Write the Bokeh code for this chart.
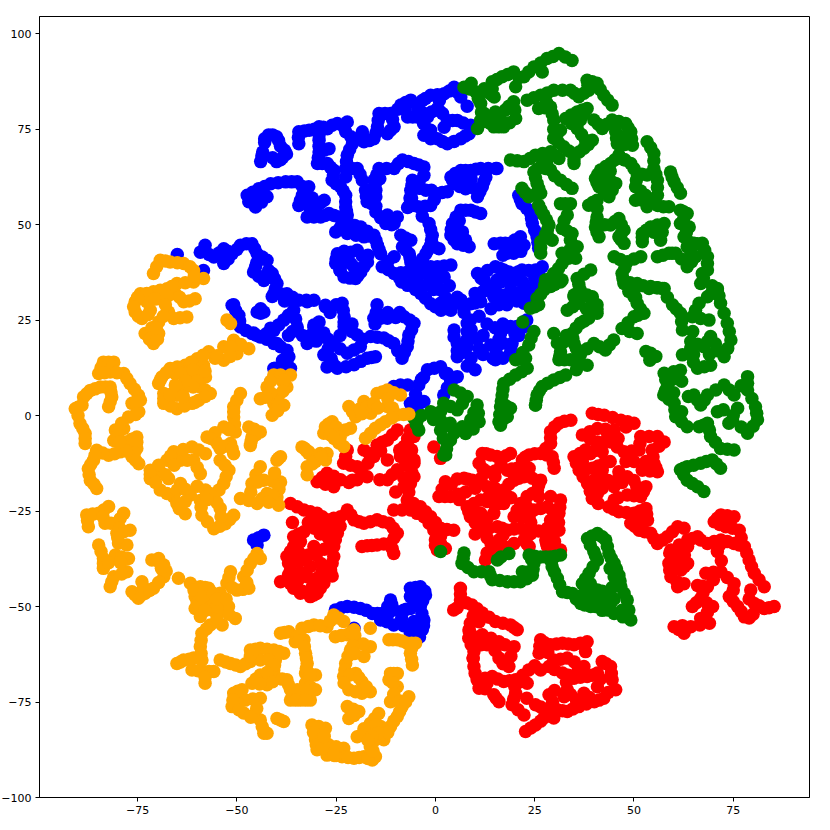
from bokeh.plotting import figure
from bokeh.embed import file_html
from bokeh.resources import INLINE

x_ticks = [-75, -50, -25, 0, 25, 50, 75]
y_ticks = [-100, -75, -50, -25, 0, 25, 50, 75, 100]

blue_points = [
(-44,66.5),(-43.5,69),(-43,71.5),(-42,73.5),(-40,73),(-39,70.5),(-37.5,68.5),(-39,67),(-41,67.5),
(-22.2,76.9),(-22.6,74.3),(-24.7,76.5),(-27.2,75.1),(-29.3,75.6),(-31.8,74.7),(-34.4,74.3),(-34.4,71.2),
(-29.3,72.1),(-29.3,69),(-26.8,69.9),(-29.7,66),(-27.2,66),(-25.5,64.2),(-26,61.6),(-23.9,59.9),(-22.6,57.7),(-22.6,54.6),(-22.2,52.5),(-23,50.3),(-25.1,48.1),
(-20.9,71.2),(-22.2,68.2),(-22.6,64.7),(-22.6,62.5),(-19.7,64.7),(-18.4,61.6),
(-18.4,74.3),(-18,71.7),(-15.5,72.5),(-14.6,75.6),(-14.2,79.1),(-11.3,79.1),(-10.4,75.6),(-12.1,73.8),(-8.7,81.3),(-6.2,82.6),(-7,78.2),(-4.5,78.2),(-1.2,83.9),(2.2,84.3),(4.7,86),(6.4,83.4),(0.5,80.4),(1.8,79.1),(-4.5,80.8),(-2,78.2),(-1.2,74.7),(-2.9,73.4),(0.5,72.5),(3,71.2),(6.4,72.5),(8.5,73.8),(8.9,76),(5.5,77.3),(3,77.3),(8,81),
(-14.2,64.7),(-10.4,64.7),(-8.3,66.9),(-5.4,66),(-2.9,65.1),(-2.9,62.9),(-15.5,61.6),(-15,59),(-17.6,59),(-17.2,56),(-15,57.3),(-15,53.3),(-12.5,50.3),(-12.1,52.5),(-9.6,52),(-10.4,50.3),
(-5.8,61.6),(-6.2,59),(-4.1,61.2),(-6.6,55),(-4.1,54.6),(-1.2,55),(0.5,58.1),(-2.4,59),(3,58.6),(-3.3,52.2),(-6,57),
(3.9,62.5),(6.4,64.2),(8.9,64.2),(11.4,64.7),(15.2,64.7),(4.7,60.8),(7.6,59.4),(11.8,59.9),(10.6,57.3),(12.7,62.5),
(6.4,53.8),(8.9,53.8),(11.4,52.9),(4.3,50.3),(3.9,47.2),(6.8,48.1),(8.5,44.2),(5.5,45),(6,51),
(-1.6,50.3),(-0.8,47.2),(-1.2,44.6),(0.9,43.7),(-2.4,42.4),(-4.1,39.8),
(-8.7,47.2),(-6.2,45.9),(-8.3,44.2),(-6.6,42.4),(-6.2,40.2),
(-24.7,42.4),(-25.1,39.8),(-23,36.3),(-20.1,35.9),(-18.8,37.6),(-17.1,40.2),(-19.7,43.3),(-22.2,40.7),(-20.5,38.9),(-23,43),(-24,38),(-17,42),
(-47.4,57.7),(-44.5,59.4),(-41.5,60.7),(-37.7,61.2),(-34.8,61.2),(-45.3,54.6),(-42.4,57.3),(-33.5,57.7),(-34.4,55),(-31.9,59.9),(-29.7,55),(-28,56.4),(-32.3,52),(-28.9,52),(-26.8,52.9),(-24.3,52),(-21.8,50.3),(-18.8,49.4),(-15.5,47.2),(-14.6,44.6),(-13.8,42.4),(-18,46.8),(-22.2,47.7),(-47,56),(-44,56.5),(-31,57),(-32,55),(-31,53),
(-13.4,39),(-10.4,41.6),(-10.4,37.2),(-7,37.6),(-2.9,39),(0.5,39),(3.9,39.4),(-1.2,35.4),(2.2,36.3),(-7,34.1),(-3.7,32),(-1.2,29.3),(1.4,27.6),(5.5,31),(3.9,27.6),(8.9,29.3),(11.4,29.8),(12.3,35.4),(10.6,37.2),(13.1,38),(14.8,45),(-12,38.5),(-9,36),(-4,37),(0,37),(-3,34),(1,33),
(15.5,64.7),(21,57.7),(21.8,55.5),(24,52.9),(24.4,50.3),(25.6,46.8),(26,43.8),(16.4,45.1),(18.9,45.1),(21.4,46.8),(19.7,42.5),(22.3,44.6),(15.1,39),(17.2,38.1),(19.7,37.2),(21.8,38.1),(18.9,34.6),(15.5,35.5),(25.2,38.1),(24.8,33.7),(26.9,39),(14.7,31.1),(17.2,31.5),(21.4,31.1),(15.5,32),(18.9,31.1),(22.3,29.4),(24.8,33.8),(16.4,21.5),(15.5,18),(15.1,14.6),(18.9,23.3),(22.3,23.3),(19.3,18.9),(18.9,16.3),(13,34),(10,32),(17,42),(22,35),(17,19),(21,21),(17,24),
(-65,42.2),(-59.2,42.8),(-58,44.6),(-55.8,41.5),(-53.3,43.7),(-53.3,39.8),(-51.2,42.4),(-49.1,44.6),(-46.2,45),(-44.9,42.4),(-42.4,40.7),(-45.8,37.6),(-43.2,35.4),(-41.1,37.2),(-39.9,34.6),(-58.4,38),(-40.7,31.9),(-37.4,31.9),(-34.4,30.2),(-30.6,30.2),(-45,40),(-42,38),
(-51.2,28.9),(-49.5,26.3),(-44.9,27.1),(-43.2,27.1),(-49.1,23.2),(-46.2,21.5),(-44.1,20.6),(-40.7,22.3),(-40.7,18.9),(-38.2,25),(-35.7,27.6),(-34.8,23.2),(-37.4,17.1),(-37.4,13.6),(-40.7,12.3),(-32.3,18.9),(-30.6,23.2),(-27.7,28.9),(-28.9,20.6),(-27.3,12.7),(-38,30),(-37,21),
(-50.8,29),(-44,26.8),(-41.1,31.2),(-36.5,30.3),(-32.3,29.8),(-27.7,28.5),(-23.5,29.4),(-23,25.9),(-23,23.3),(-34.8,22.4),(-30.6,23.7),(-31.5,19.8),(-28.1,21.6),(-25.6,18.9),(-28.1,15.9),(-24.7,12.4),(-20.5,13.3),(-17.2,15),(-15.1,15.4),(-19.7,21.1),(-16.3,20.7),(-14.7,29),(-15.5,25.5),(-12.1,25.5),(-7.9,25.9),(-5.4,24.2),(-6.7,21.1),(-7.1,18),(-8.4,15),(-10.5,18.9),(-13,20.3),(-18.9,18.1),(-22.2,16.3),(-39.9,18.9),(-36.9,15.4),(-40.3,12.4),(-36.5,12.4),(-45.8,21.6),(-41.5,22.9),(-26,14),(-12,27),(-9,27),(-21,22),(-24,21),
(-8.8,8),(-10.5,7.6),(-4.2,8),(-2,12),(1.3,12.8),(3.8,9.3),(5.5,10.2),(2.1,5.4),(-6.3,3.2),(-2.9,3.7),(-4.6,1.5),(4.7,22.4),(5.5,18.9),(5.5,15.4),(8,18),(8,24.2),(6.4,30.3),(1.3,29.4),(8.8,25),(6.3,18.5),(13.9,18.5),(12,21),(11,26),(13,24),(8,13),(3,11),(9,15),(12,16),(14,28),
(-45.8,-32.6),(-43.2,-31.3),(-44.9,-33.9),(-44.5,-32),
(-25.2,-50.9),(-22.2,-50),(-18.9,-50.5),(-15.9,-51.8),(-13.4,-51.8),(-11.3,-48.3),(-10.5,-50.9),(-6.3,-45.2),(-3.8,-44.8),(-6.3,-47.4),(-2.5,-47),(-3.8,-50),(-6.3,-50.5),(-2.9,-53.5),(-3.3,-56.1),(-6.3,-57),(-5.4,-53.9),(-13.8,-53.5),(-10.5,-54.8),(-20.5,-55.7),(-8,-51),(-4,-47),(-8,-55),(-4,-58),
(-43.7,68),(-43,72.5),(-41,73.5),(-39.5,72),(-38,69.5),(-38.5,67.5),(-40,66.5),(-23,75.5),(-26,76),(-28.2,75.5),(-30.5,75),(-33,74.5),(-34.5,72.8),(-29.3,73.5),(-29.3,70.5),(-28,69.5),(-29.5,67.5),(-28.5,66),(-26.4,65),(-25.7,63),(-25,60.7),(-23.2,58.8),(-22.6,56),(-22.4,53.5),(-22.6,51.4),(-24,49.2),
(-21.6,69.7),(-22.4,66.5),(-21,64.7),(-19,63.2),(-21.3,73),(-19.5,72.5),(-18.2,73),(-16.7,72),(-15,74),(-14.4,77.3),(-12.7,79.1),(-10.8,77.5),(-11.3,74.7),(-9.5,80.2),(-7.5,82),(-7.6,80),(-5.7,78.2),(-3.3,82.5),(-2.5,83),(0.5,84),(3.5,85),(5.5,84.7),(1,82.5),(1,79.8),(-3,76.5),(-2,75),(-1.2,72.5),(1.7,71.8),(4.7,71.8),(7.5,73.2),(9,75),(7,76.6),(4.3,77.3),(2.2,75.5),(-3.5,79.5),(-1,79.5),
(-12.3,64.7),(-9.3,66),(-6.8,66.5),(-4.2,65.6),(-14.8,63),(-15.2,60.3),(-16.3,59),(-17.4,57.5),(-16,55.5),(-15,54.8),(-13.8,51.8),(-11.3,51.5),(-11,50),(-14,62),(-5.9,60.3),(-6.4,57),(-5.3,55),(-2.6,54.8),(-0.3,56.5),(1.7,58.4),(-1,59),(-4,59.5),(-7,54.5),
(5,63.4),(7.6,64.2),(10.2,64.5),(13.3,64.7),(4.3,61.7),(6.1,60),(9.6,59.6),(11.2,58.6),(12.2,61.2),(9,62),(7,62),(7.6,53.8),(10.1,53.3),(5.2,52),(4,48.7),(5.4,47.6),(7.6,46),(7,44.6),(4.7,46),
(-1.2,48.7),(-1,46),(-0.2,44.2),(-1.8,43.5),(-3.2,41.1),(-7.5,45.5),(-7.5,46.5),(-7.4,43.3),(-6.4,41.3),(-25,41),(-24,38),(-21.5,36),(-19.5,36.7),(-18,39),(-18.4,41.8),(-21.3,42.8),(-23.5,40.5),(-21.3,39.8),
(-46,58.5),(-43,60),(-39.6,61),(-36.2,61.2),(-33.5,60),(-46.3,56),(-43.8,55.9),(-43.5,58.3),(-34,56.3),(-32.3,56.7),(-30.8,55),(-28.9,55.7),(-30.6,52),(-27.8,52.4),(-25.5,52.4),(-23,51.2),(-20.3,49.8),(-17.2,48.3),(-15,45.9),(-14.2,43.5),(-20,47.2),(-16.8,47),
(-12,40.3),(-11.8,38.2),(-8.7,37.4),(-5,38.3),(-1.2,39),(2.2,39.2),(-2,37),(1,36),(-5,33),(-2.5,30.7),(0,28.5),(3,28),(4.7,29.5),(6.5,30),(7,28.5),(10,29.5),(12,32.5),(11.5,36),(-8.5,35),(-5.5,35.6),(-0.5,33),(3.5,34),(2.5,31),
(21.4,56.5),(23,54.2),(24.2,51.6),(25,48.5),(25.8,45.3),(17.6,45.1),(20,46),(20.5,43.5),(21.5,43),(18,42.5),(16.3,38.5),(18.5,37.6),(20.8,37.6),(17,36.5),(20,35.5),(16.5,35),(23.5,38),(25,36),(15,33),(19,33),(22,33),(26,37),(16,29),(18,29),(20.5,30),(24,31.5),(16,20),(15.3,16.3),(17.5,23),(20.5,23.3),(23,25),(20,21.5),(19,17.5),(17,15),(15,23),
(-57,42.2),(-54.5,42.6),(-52.3,43),(-52.2,41),(-50,43.5),(-47.6,45),(-45.5,43.7),(-43.6,41.5),(-45.3,39),(-44.5,36.5),(-42,36.2),(-40.5,35.8),(-40.3,33.2),(-39,31.9),(-36,31),(-32.5,30.2),
(-50.3,27.5),(-49.3,24.8),(-47.7,22.3),(-45,21),(-42.5,21.5),(-39.5,23.7),(-37,26.3),(-35.2,25.3),(-44,28),(-42.5,20),(-39,18),(-37.4,15.4),(-38.8,12.6),(-36,22),(-33.5,21),(-31.5,21),(-29.7,22),(-30,19.5),(-26.5,27),(-25,29),(-23.2,27.5),(-23,24.5),(-29.3,24.5),(-27,20),(-27,17.5),(-26.3,15),(-25.3,13),(-22.5,12.8),(-18.8,14.2),(-16.1,15.2),(-18.3,20),(-15.2,24),(-13.8,25.5),(-10,25.7),(-6.5,25),(-6,22.5),(-6.9,19.5),(-7.8,16.5),(-9.5,17),(-11.8,19.6),(-14.6,20.5),(-20.5,17.2),(-24,17.5),(-14.9,27),(-21,24),(-38.5,14.5),(-43,21),
(-3,10),(-0.3,12.4),(2.5,11),(4.6,9.8),(3,7.3),(-7,8),(-5,5.5),(-4.5,3.5),(-3.5,9.5),(4.7,20.6),(5.5,17),(6.7,16.5),(8,20),(8,22),(7.2,27),(4,29.7),(9,22.5),(10.5,20),(11,17.5),(14.5,15),(10,12),
(-23.7,-50.3),(-20.5,-50.2),(-17.4,-51),(-14.6,-51.8),(-12,-50),(-5,-45),(-2.7,-46),(-3.2,-48.5),(-3.4,-51.8),(-3,-55),(-4.8,-56.5),(-5.3,-49.5),(-7.3,-50.7),(-12.2,-54),(-12,-52),(-8.5,-53),(-11,-49.5),
]

red_points = [
(34.1,-1.2),(31.1,-2),(29,-4.2),(29,-7.3),(26.5,-9.9),(23.6,-10.3),(21.9,-11.6),(23.6,-13.8),(29.4,-10.8),(29.9,-13.8),
(11.8,-9.9),(13.9,-10.3),(18.9,-9.9),(16.8,-11.2),(11,-12.5),(13,-14.7),(18.1,-14.3),(20.6,-13.8),(7.2,-16.4),(9.3,-16.9),(2.5,-17.3),(0.9,-21.2),(3.8,-21.2),(7.6,-20),(13,-18.6),(17.2,-19.5),(19.8,-16.9),(22.3,-16),(26.5,-16.9),(25.7,-19.5),(23.1,-21.2),(29,-21.2),(31.5,-22.1),(31.1,-25.6),(28.2,-23.9),(24.8,-24.7),(21.5,-23),(19.8,-26.5),(23.6,-26.5),(17.2,-23),(14.7,-23),(11.4,-22.1),(8,-23.9),(8.8,-26.5),(11.4,-25.6),(11.4,-30),(15.6,-29.1),(18.1,-30),(16,-32.6),(21.4,-29.5),(24,-30.9),(28.2,-29.5),(31.1,-30),(27.8,-32.6),(28.2,-34.3),(22.3,-32.6),(23.6,-34.3),(31.5,-35.2),(17.3,-34.3),(13,-36),(12.6,-37.8),(19.8,-33.5),(14.7,-25.6),(13.5,-21.2),(29,-27.4),(10,-19),(15,-16),(10,-28),(13,-27),(4,-18),(6,-22),(18,-21),(13,-32),(30,-33),
(39.5,0.6),(42.5,0.1),(46.7,-1.2),(50,-2),(45,-3.8),(40.8,-3.4),(37,-5.1),(40.8,-6.9),(44.1,-6.9),(47.5,-9.5),(51.3,-9),(51.7,-5.5),(55.9,-5.5),(57.6,-6.9),(54.6,-9),(55,-12.5),(55.9,-14.7),(52.1,-14.3),(34.9,-10.8),(37.8,-9),(42,-9.5),(36.2,-14.3),(39.5,-13.8),(42.5,-12.5),(41.6,-16),(38.3,-17.8),(39.5,-21.7),(42,-19),(46.2,-14.7),(45,-18.6),(48.3,-16),(53,-18.6),(51.7,-21.2),(48.3,-20.8),(43.7,-23.9),(46.2,-25.2),(50,-25.6),(53,-24.3),(53.4,-27.4),(49.2,-28.2),(51.3,-30),(54.2,-30.8),(55.9,-33.5),(58.4,-31.7),(61,-29.1),(62.6,-29.5),(45,-22.1),(37,-12),(39,-10),(40,-19),(44,-12),(50,-17),(50,-12),(43,-4),
(71.9,-26),(75.2,-26.5),(70.2,-27.8),(73.1,-29.1),(76.5,-30),(66,-31.7),(63.5,-32.6),(59.3,-35.2),(63.5,-34.3),(68.5,-33.5),(71.9,-32.6),(71,-35.6),(75.2,-33.5),(77.8,-34.3),(79,-37.8),(80.3,-41.3),(82.8,-44.8),(63.5,-38.7),(58.8,-38.7),(59.3,-42.2),(62.6,-44),(61,-44.8),(61.8,-40.4),(68.1,-41.3),(71.9,-40.9),(75.2,-44),(68.5,-44.8),(66,-44.5),(66.8,-47.9),(64.7,-50),(69.8,-50),(66.8,-53.1),(69,-54.4),(64.3,-55.3),(60.1,-55.3),(62.6,-57),(74,-47.4),(76.1,-50),(77.8,-52.7),(79.4,-45.7),(80.3,-49.2),(82.8,-50.5),(85.3,-50),(80,-52),(59,-36),(61,-36),
(-7.1,-7.3),(-5.4,-12.5),(-6.3,-17.8),(-7.1,-22.1),(-3.8,-23.9),(-1.2,-26.5),(1.3,-29.5),(4.6,-30),(1.3,-33.5),(0,-34),(2.5,-34.8),(-0.4,-8.2),(1.3,-11.2),
(-6.3,-3.8),(-5.4,-5.5),(-7.9,-8.1),(-5.4,-11.6),(-8.8,-10.7),(-12.1,-6.4),(-9.6,-3.8),(-14.7,-7.7),(-15.5,-10.7),(-18,-9),(-12.1,-11.6),(-19.7,-13.4),(-17.2,-16),(-23.1,-12.5),(-22.2,-9),(-9.6,-14.2),(-5.4,-16),(-12.1,-16.8),(-7.9,-18.6),(-23.9,-16.8),(-27.3,-15.1),(-29.8,-17.3),(-25.6,-18.6),(-19.7,-16.8),(-6,-9),(-10,-20),
(-36.5,-23),(-33.1,-24.7),(-29.8,-25.6),(-27.3,-27.3),(-23.9,-26.5),(-22.2,-24.7),(-20.5,-27.3),(-18,-28.2),(-14.7,-27.3),(-11.7,-28.2),(-9.6,-30.8),(-11.3,-33.4),(-10.5,-36.1),(-14.7,-33.9),(-18.5,-34.3),(-16,-34),(-10.5,-24.7),(-6.3,-24.7),(-2.9,-26.5),(-0.4,-30),(0.5,-35.2),
(-35.7,-31.7),(-33.1,-30.4),(-27.3,-29.1),(-29.8,-28.2),(-24.7,-30.8),(-25.6,-34.3),(-25.6,-36.9),(-26.4,-40.4),(-28.1,-43.9),(-29.8,-46.5),(-31.5,-47.4),(-35.7,-45.2),(-37.4,-43),(-36.5,-40.4),(-37.4,-36.9),(-35.7,-34.3),(-33.1,-37.8),(-30.6,-34.3),(-28.9,-38.7),(-32.3,-42.2),(-29.8,-42.6),(-34,-41),(-39,-43.5),(-33.5,-46),(-27,-32),(-29,-31),(-32,-28),(-34,-33),(-26,-42),(-35,-38),
(6.3,-45.2),(6.3,-48.3),(9.2,-49.6),(4.6,-50.9),(11.8,-51.7),(8.8,-54.4),(15.1,-53.9),(18.9,-54.8),(20.6,-56.1),(8.4,-58.3),(11.8,-57.4),(16,-59.2),(13,-60),(9.7,-61.8),(16,-63.5),(19.8,-60.5),(18.5,-65.7),(9.7,-65.7),(10.5,-69.2),(11,-71.4),(14.3,-68.3),(17.2,-69.6),(14.7,-73.1),(16,-74.9),(20.2,-69.2),(23.1,-70.1),(20.2,-72.7),(19.3,-75.7),(22.3,-78.4),(23.5,-66.6),(26.5,-58.7),(26.1,-62.2),(29,-60),(32,-59.6),(34.9,-60),(38.2,-59.2),(37.8,-61.8),(26.5,-66.6),(29.8,-64),(33.2,-63.5),(28.6,-65.7),(37.4,-65.7),(32,-67.4),(34.9,-68.8),(38.2,-68.3),(42,-64.4),(44.1,-65.7),(44.5,-69.2),(45.4,-71.8),(40.8,-67.4),(40.8,-71),(33.2,-71.8),(32.4,-73.6),(37.4,-72.7),(42.4,-74),(40,-74.9),(36.1,-76.2),(33.2,-77.5),(30.7,-77),(28.6,-73.1),(25.2,-75.7),(27.7,-77),(27.3,-79.2),(29.8,-79.2),(25.2,-81),(22.7,-82.7),(11,-54),(9.5,-63.5),(13,-70),(8.5,-56),
(32.5,-1.5),(30,-3),(29,-5.8),(27.8,-8.6),(25,-10),(22.6,-10.9),(28,-10.3),(29.7,-12.3),(12.8,-10),(15.5,-10.7),(17.8,-10.5),(12,-14),(15,-14.5),(16.5,-13),(19.3,-14),(8.2,-16.7),(5.5,-16.6),(1.7,-19.3),(2.4,-21.2),(5.7,-20.6),(10.3,-18),(11.5,-16.5),(15,-19),(18.5,-18),(21,-16.4),(24.4,-16.4),(26,-18.2),(24.4,-20.4),(26,-21.2),(31.3,-24),(29.5,-24.8),(26.5,-24.3),(23,-23.9),(20.6,-24.8),(21.7,-26.5),(16,-23),(13,-22.5),(9.7,-23),(8.4,-25.2),(10,-26),(11.4,-27.8),(13.5,-29.5),(16.8,-29.5),(17,-31.3),(19.8,-29.7),(22.7,-30.2),(26,-30.2),(29.7,-29.8),(29.5,-31.8),(28,-33.5),(23,-33.5),(29.9,-34.8),(15,-35),(14,-33.5),(24,-28),(19,-21.5),(15.8,-21),(10,-31),(31,-28),
(41,0.3),(44.6,-0.5),(48.4,-1.6),(48,-3),(42.8,-3.6),(38.9,-4.2),(38.9,-6),(42.5,-6.9),(45.8,-8.2),(49.4,-9.3),(51.5,-7.3),(53.8,-5.5),(56.3,-8),(54.8,-10.8),(55.5,-13.6),(54,-14.5),(36.4,-9.9),(40,-9.2),(35.5,-12.5),(38,-14),(41,-13.2),(42,-14.3),(40,-16.9),(39,-19.8),(40.8,-20.4),(43.5,-17),(46,-16.6),(47,-17.5),(50.7,-18.6),(52.4,-19.9),(50,-21),(46,-21.5),(44.9,-24.5),(48.1,-25.4),(51.5,-25),(53.2,-25.8),(51.3,-27.8),(50.2,-29),(52.7,-30.4),(55,-32.2),(57.2,-32.6),(59.7,-30.4),(41,-23),(37.2,-16),(48,-12),(53,-12),(46,-6),
(73.5,-26.2),(71,-26.9),(71.6,-28.5),(74.8,-29.5),(77,-32),(64.7,-32.2),(61.4,-33.9),(66.8,-32.6),(70.2,-33),(71.5,-34),(73.5,-33),(76.5,-33.9),(78.4,-36),(79.6,-39.5),(81.5,-43),(61,-36.8),(60,-38.7),(59,-40.4),(60.8,-43.5),(62.7,-39.5),(62.7,-36.5),(70,-41),(73.5,-42.4),(70,-43),(67.2,-44.7),(67.4,-46.4),(65.7,-49),(68.3,-49),(68.5,-51.5),(68,-53.8),(66.6,-54.8),(62.2,-55),(61.3,-56),(75,-45.7),(75,-48.7),(77,-51.3),(79,-48),(81.5,-49.8),(84,-50.3),(79,-53),(72,-38),
(-6.3,-10),(-5.9,-15),(-6.7,-20),(-5.5,-23),(-2.5,-25.2),(0,-28),(2.9,-29.8),(1.3,-31.5),(-7,-6),(-9,-9),(-13.4,-7),(-16.7,-9.9),(-10.8,-5),(-13.8,-9.2),(-17,-12.5),(-18.5,-15),(-21.4,-13),(-22.6,-10.7),(-20.9,-16.9),(-7.5,-13),(-8,-16.3),(-10.9,-15.5),(-14,-16.8),(-25.6,-15.9),(-28.5,-16.2),(-27.7,-18),(-21.8,-17.5),
(-34.8,-23.9),(-31.5,-25.2),(-28.5,-26.5),(-25.6,-26.9),(-21.3,-26),(-19.2,-27.8),(-16.4,-27.8),(-13.2,-27.8),(-10.6,-29.5),(-10.4,-32),(-13,-33.6),(-17.2,-34.1),(-10.9,-34.8),(-8.4,-24.7),(-4.6,-25.6),(-1.6,-28.2),(0,-32.5),(-34.4,-31),(-30.5,-29.5),(-26,-30),(-25.2,-32.5),(-26,-38.6),(-27.2,-42),(-29,-45.2),(-30.6,-47),(-34,-46.5),(-36.5,-44),(-37,-41.7),(-37,-38.6),(-36.5,-35.6),(-34.4,-35.8),(-32,-36.5),(-30,-36.5),(-34.5,-43),(-31,-44.8),(-28.6,-41),(-31.5,-39.5),(-28,-35),(-36,-28),(-24,-29),
(6.3,-46.7),(7.8,-49),(5.5,-50.3),(10.5,-50.6),(9.5,-52.5),(13.5,-52.8),(17,-54.4),(19.8,-55.5),(8.5,-56.5),(10,-58),(14,-58.3),(11.5,-60),(9,-60),(15,-61.5),(17.5,-60),(19,-63),(17,-65),(9.5,-63.5),(10,-67.5),(12.5,-68.8),(15.7,-69),(12.5,-71.5),(15.3,-74),(18.7,-69.4),(21.6,-69.6),(20,-71),(19.7,-74.2),(20.8,-77),(22,-68),(25,-65.5),(26.3,-60.4),(27.5,-59.5),(30.5,-59.8),(33.5,-59.8),(36.5,-59.6),(28.3,-62),(31.5,-63.8),(35,-64.5),(30,-66.5),(36,-66.7),(33.5,-68),(36.5,-68.5),(43,-65),(44.3,-67.5),(41.5,-69),(39.5,-68),(33,-69.8),(34,-73),(35.5,-74.5),(38.8,-73.8),(41.2,-74.5),(43.5,-72.5),(38,-75.5),(34.6,-76.8),(32,-77.3),(29.5,-75),(26.5,-76.3),(28.7,-78),(26.5,-80),(24,-81.8),(23,-74),(30,-72),
]

green_points = [
(34.4,93),(31.1,94.8),(28.1,93.5),(24.8,91.3),(26.9,90),(22.3,88.7),(19.7,90),(20.2,86.1),(16.8,88.7),(14.3,87.4),(14.3,83.9),
(7.2,86),(10.2,84.7),(11.4,81.7),(12.3,85.6),(14.8,83.4),(11.4,77.3),(13.9,76.5),(12.3,79.1),(10.6,75.2),(15.6,79.1),(15.1,79.5),(17.6,80),(19.7,82.2),(20.2,77.8),(17.2,75.6),(14.7,75.6),(9,87),
(23.1,82.6),(26.5,83.9),(29.8,85.2),(26,80.4),(34,85.2),(29,80.8),(29.8,77.4),(29.8,72.6),(31.5,74.7),(32.3,70.4),(34.9,68.2),(34.9,66),(37.4,70),(39.5,72.1),(37.8,72.1),(35.7,75.2),(32.8,77.8),(35.7,79.5),(38.2,80.4),(36.5,77.4),(28,82),
(36.1,83.5),(38.6,85.2),(38.2,87.8),(40.7,87),(42.4,83.9),(44.5,81.3),(39.9,77.4),(42,75.2),(44.5,77.4),(47.9,76.5),(49.2,74.3),(49.6,70.8),(45.8,71.2),(45.4,74.3),(47.5,73),
(53.3,71.7),(55,68.6),(55,64.7),(55.9,61.6),(55.9,57.7),(53.3,54.7),(58.8,54.7),(50.4,56.4),(52.9,57.7),(50.4,59.9),(50.8,63.4),(53.3,63),(49.2,66),(46.2,68.2),(44.1,66),(41.6,64.3),(40.3,62.1),(41.2,59.9),(43.3,61.6),(45.4,60.8),(43.7,57.3),(44,64),(56,55),
(59.2,63.8),(60.1,61.2),(61.7,58.2),
(18.9,66.9),(22.3,66.5),(25.2,68.2),(29,69.1),(31.1,67.3),(26.5,65.1),(24.8,63.8),(29,64.3),(25.6,60.8),(26.5,58.2),(23.5,57.3),(21.8,59.5),(31.5,61.6),(34.4,59.5),(28,66),
(26,55.1),(27.3,52.5),(28.6,49.9),(27.7,47.3),(29.4,45.9),(26.5,45.5),(26.5,42.5),
(31.5,55.5),(34,55.5),(33.2,52.5),(31.9,49),(34.4,47.7),(34,45.9),
(38.6,55.1),(40.7,56.4),(40.7,52),(40.3,49.4),(41.2,46.8),(44.1,49.9),(46.2,51.6),(47.5,48.6),(46.2,46.8),(47.5,45.1),
(52.1,47.7),(52.1,45.5),(54.2,49.4),(57.6,50.3),(56.7,45.9),(56.7,47.7),
(61.7,53.8),(63.4,52.9),(61.7,50.3),
(63.9,49.4),(62.6,46.8),(65.1,45.1),(67.2,45.1),(68.5,41.6),(63.4,44.2),(65.5,41.6),(63.4,39),(60.5,42.5),(58.8,42.5),(55.9,41.6),(68.5,38.1),(66.8,34.6),(67.2,37.2),(71,32.9),(68.5,31.1),
(45,41.6),(48.3,40.3),(51.7,41.6),(47,37.2),(47.5,35),(50.8,34.6),(53.8,33.3),(57.6,33.3),(50,31.1),
(31.9,42.5),(35.7,44.2),(35.3,41.2),(31.9,39.8),(29.8,37.2),(31.9,35.5),(27.7,35.5),(27.3,32.9),(25.6,30.7),(29.4,34.2),
(39.1,38.1),(35.7,35.9),(36.5,32.9),(34.9,31.1),(39.5,31.1),
(26,29),(23.9,28.1),(29,33.8),(31.5,35),
(34.9,31.6),(38.2,31.6),(40.7,29),(40.7,26.8),(33.2,27.6),(36.1,29.4),(38.6,25.5),(36.5,24.2),(34.4,21.5),(34.9,18.9),(29.8,21.5),(31.5,16.7),(31.1,14.6),(34,14.6),(38.2,13.2),(32.8,10.6),(29.8,9.3),(26.9,7.6),(25.6,5.4),(25.2,2.8),(36.5,15.9),(39.9,18.9),(42.8,17.2),(44.9,19.8),(32,19),
(24.8,22),(23.5,18.5),(20.2,14.6),(22.7,15),(23.1,12.4),(20.2,10.6),(17.2,8.4),(16.8,5.4),(16.4,2.3),(18.9,1.9),(16,-1.6),(18.1,-0.3),
(50,32.9),(50.8,29.4),(52.5,26.8),(50,25.9),(47,22.8),(50.8,21.5),(47.5,34.6),(54.2,33.8),(57.1,33.3),(59.7,29),(61.7,26.8),(62.2,22.4),
(53,16.8),(54.2,16.3),(55.5,15.5),(54,14.5),
(66.4,29.4),(64.7,25.9),(68.9,25),(71,33.3),(71.8,29.4),(73.5,24.2),(74.4,19.8),(72.7,15.4),(69.3,20.7),(67.6,18),(64.3,19.4),(64.3,15.9),(66,12.4),(69.3,13.2),(62.2,15.9),(61.7,11.9),(57.6,11.1),(58.4,7.6),(57.5,5.4),(60.1,3.2),(60.5,-0.3),(63.4,-2.9),(65,16),(71,17),
(65.1,5.4),(66.8,2.8),(68.5,5.4),(72.7,8),(75.2,5.4),(78.6,10.2),(78.6,6.7),(80.6,2.3),(81.1,-1.1),(78.6,-4.6),(71,1),(76.1,1.9),(73.9,-2),(75,0),(62,9),(60,6),(62,1),
(68.5,-2),(66.4,-2.9),(69.3,-5.5),(71.8,-8.6),(75.2,-9),(69.7,-11.6),(71.8,-13.8),(66.8,-12.5),(63.4,-13.4),(61.7,-14.2),(63.4,-16.9),(66,-18.6),(67.6,-19.9),
(-5.4,-0.7),(-4.2,-3.8),(-1.2,1),(0.5,-0.7),(2.1,3.2),(5.5,1.5),(4.7,6.7),(8,5),(1.3,-3.8),(3,-7.2),(2.6,-10.3),(6.8,-2.9),(4.7,-4.6),(8.9,-1.1),
(-4.6,-1.2),(-0.4,0.6),(2.1,-2.9),(3.8,-6.4),(2.1,-10.3),(10.5,2.8),(11,-1.6),(7.6,-4.7),(17.3,2.8),(16.4,-2.5),(25.2,2.8),
(7.2,-36),(6.7,-38.7),(9.7,-40.9),(13.5,-40.9),(14.3,-43),(18.1,-43.5),(21.4,-43.5),(24.4,-41.8),(21.9,-40.9),(24.8,-38.7),(23.6,-36.5),(26.5,-37),(29,-37),(31.5,-36.5),(29.4,-39.6),(30.7,-42.6),(32,-46.1),(34.5,-46.6),(36.6,-49.2),(37,-44),(38.7,-41.3),(40.8,-37.8),(39.9,-35.6),(38.3,-32.2),(40.8,-30.9),(42.9,-32.6),(43.7,-36.1),(45,-38.7),(46.2,-41.8),(46.7,-44.8),(48.3,-48.3),(49.2,-53.5),(45,-51.8),(41.6,-50),(39.1,-50),(40.8,-45.7),(43.3,-46.6),(44.1,-49.2),(38.3,-46.6),(45,-42.2),(47,-51),
(15.6,-37.8),(18.5,-36.1),(1.3,-35.6),
(32.7,93.9),(29.6,94),(26.5,92.3),(23.5,90),(21,88.5),(18.2,89.3),(15.5,88),(14.3,85.6),(8.6,85.5),(10.8,83),(13.5,84.5),(11.6,79.5),(12.6,77),(14.5,77.8),(18.5,81),(20,80),(18.7,76.7),(16,75.6),(16.3,78),
(24.8,83.2),(28.2,84.5),(32,85.2),(27.5,80.6),(29.4,79),(29.8,75),(30.6,73.7),(31,71.5),(33.6,69.3),(34.9,67),(36.2,69),(38.5,71),(36.8,73.6),(34.3,76.5),(34.2,78.7),(37,80),(37.4,78.9),
(35,84.4),(37.4,84.4),(38.4,86.5),(39.5,87.4),(41.5,85.4),(43.4,82.6),(41,76.3),(43.2,76.3),(46.2,77),(48.5,75.4),(49.4,72.5),(47.7,71),(45.6,72.7),
(54.2,70.2),(55,66.7),(55.5,63.2),(55.9,59.7),(54.7,56.2),(57.4,54.7),(51.7,56.5),(51.7,58.8),(50.6,61.7),(52,63.2),(50,64.7),(47.7,67),(45.2,67),(42.9,65.2),(40.9,63.2),(40.7,61),(42.2,60.7),(44.4,61.2),(44.5,59),(42.5,58.6),(47.5,67),
(59.6,62.5),(60.9,59.7),(20.6,66.7),(23.8,67.3),(27,68.6),(30,68.2),(27,67),(25.6,64.5),(27.7,64.7),(25.2,62.3),(26,59.5),(25,57.8),(22.6,58.4),(33,60.5),(30,62.8),
(26.6,53.8),(28,51.2),(28.2,48.6),(28.5,46.6),(26.5,44),(32.7,55.5),(32.4,51),(33.1,48.4),(39.6,55.8),(40.7,54.2),(40.5,50.7),(40.7,48),(42.6,50),(45.2,50.8),(46.8,50),(46.8,47.7),(46.8,46),
(52.1,46.6),(53.1,48.5),(55.9,49.9),(57.1,48),(55,48),(62.5,53.4),(62.5,51.5),(63.2,48),(63.7,45.6),(66,45),(67.8,43.3),(64.4,42.9),(64.5,40.3),(62,41),(59.6,42.5),(57.3,42),(68.5,39.8),(67.5,36),(69.5,32),(69.7,34),
(46.5,40.9),(50,41),(47.7,38.7),(47.2,36),(49,34.8),(52.3,34),(55.7,33.5),(48.7,32.5),(33.8,43.3),(33.5,41.2),(31,38.5),(30.8,36.3),(28.7,35.8),(27.5,34.2),(26.5,31.8),(37.4,37),(36.1,34.4),(35.7,32),(37.2,31.3),
(25,28.5),(30,34.3),(36.5,31.6),(39.5,30.3),(40.7,27.9),(34.6,28.5),(38,28),(37.5,24.8),(35.4,22.9),(34.6,20.2),(33,21),(30.7,19),(31.3,15.6),(32.5,14.6),(36,13.9),(35.5,12),(31.3,10),(28.3,8.5),(26.2,6.5),(25.4,4),(35.5,17.5),(38.2,17.5),(41.3,18),(43.8,18.5),
(24.1,20.3),(22,16.5),(21.4,14.8),(21.7,11.5),(18.7,9.5),(17,6.9),(16.6,3.8),(17.6,2),(16.2,0.3),(17,-1),(22,24.5),
(50.4,31),(51.6,28),(51,26.3),(48.5,24.3),(48.9,22),(48.7,34),(56,33.5),(58.4,31),(60.7,27.9),(62,24.6),(65.5,27.6),(66.8,25.4),(70,33),(71.4,31.4),(72.7,26.8),(74,22),(73.6,17.6),(70.5,18.8),(68.5,19.4),(66,18.7),(64.3,17.6),(65,14),(67.7,12.8),(60,11.5),(59.5,9.4),(58,9.4),(57.9,6.5),(58.8,4.3),(60.3,1.5),(62,-1.6),(64.8,22),(69,16),
(66,4),(67.7,4),(70.6,6.7),(74,6.7),(77,7.8),(78.6,8.5),(79.7,4.5),(80.9,0.6),(80,-2.8),(77,-3),(72.5,1.5),(74.8,-1.2),(63.7,5),
(67.5,-2.5),(69,-3.8),(70.5,-7),(73.5,-8.8),(68.2,-12),(70.8,-12.7),(65,-13),(62.5,-13.8),(62.5,-15.5),(64.7,-17.8),
(-3.5,0),(-4.8,-2.3),(1.3,1),(1.5,-1.5),(3.8,2.4),(6.8,3.2),(6.3,5.9),(2,-6),(2.8,-8.7),(5.7,-3.7),(8,-3),(9.7,0.8),(10.8,0.6),(9.5,-3.5),(-0.5,-1),(3.7,-2),(17,0),(17.8,2.5),
(7,-37.4),(8.2,-39.8),(11.6,-40.9),(13.9,-42),(16.2,-43.2),(19.8,-43.5),(23,-42.7),(23,-41),(24.6,-40.2),(24.2,-37.6),(25,-36.8),(27.8,-37),(30.2,-36.8),(29.2,-38.3),(30,-41),(31.3,-44.3),(33.2,-46.3),(35.5,-48),(37.8,-42.7),(39.7,-39.6),(40.3,-36.7),(39,-33.9),(39.5,-31.5),(42,-31.7),(43.3,-34.3),(44.3,-37.4),(45.6,-40.2),(46.5,-43.3),(47.5,-46.5),(48.7,-50.9),(47.2,-52.7),(43.3,-50.9),(40.3,-50),(37.6,-49.6),(39.5,-46),(42,-46),(38.5,-44),(42.5,-48.5),(16.5,-37),
(44,-40),(39,-44),(37,-47),(40,-47.5),(42,-47.5),(44.5,-45),(45,-48),(42,-51),
]

orange_points = [
(-69.3,40.7),(-66.8,40.2),(-63.4,39.8),(-71,37.2),(-60.9,38),(-60.9,35),(-58.4,35.9),(-65.1,34.6),(-67.6,33.2),(-71,32.4),(-74.3,31.9),(-75.6,29.8),(-75.6,27.1),(-73.9,25.4),(-71.8,27.6),(-72.7,29.8),(-69.3,30.6),(-65.5,31.9),(-63.4,29.8),(-60.5,30.6),(-67.2,27.1),(-69.7,24.5),(-65.9,25.4),(-62.6,25.8),(-73.1,21.5),(-71,18.9),(-69.7,21.5),
(-52.5,25),(-51.6,24.1),
(-50.8,19.7),(-47,17.5),(-53.3,18),(-50,16.2),(-53.3,14.5),(-57.1,16.7),(-60,14.9),(-63,13.2),(-66.8,12.3),(-68.9,10.1),(-69.7,8.4),(-65.5,11),(-58.4,13.2),(-57.9,10.1),(-62.6,10.1),(-63,7.5),(-59.2,7.5),(-56.7,5.8),(-59.6,4),(-61.3,3.2),(-65.1,1.8),(-68.4,3.2),(-68.4,5.8),(-65.1,5.3),(-60,11),(-55.5,15),
(-83.6,14),(-81,14),(-84.8,11),(-81.9,11.4),(-78.5,11),(-76.9,8.4),(-74.8,5.3),(-74.3,4),(-76.4,3.2),(-84.4,7.5),(-81.9,7.5),(-81.5,4.9),(-82.3,2.3),(-86.9,6.6),(-88.6,4.9),(-89,2.7),(-90.7,1.8),(-89.5,-2.1),(-88.2,-4.7),(-88.2,-7.3),
(-74.7,1),(-77.3,-0.4),(-80.6,-3.8),(-78.5,-3.4),(-81,-6.5),(-78.1,-6.9),(-75.2,-5.6),(-75.2,-8.6),(-76.4,-10.8),(-74.7,-12.6),(-79.4,-9.5),(-82.3,-10.4),(-85.3,-9.1),(-86.1,-11.7),(-87.4,-13.9),(-86.9,-17),(-85.3,-19.1),
(-49.1,5.8),(-50.8,2.3),(-50.8,-0.4),(-50.4,-4.3),(-53.3,-3),(-57.5,-5.6),(-55.4,-6.5),(-54.2,-8.6),(-51.6,-7.3),(-50.8,-10),
(-40.7,10.6),(-36.5,10.6),(-42.4,7.5),(-37.4,7.5),(-39.5,5.3),(-44.1,4.4),(-40.7,3.2),(-38.2,2.7),(-41.1,0.1),(-38.5,9),
(-47,-3),(-44.1,-4.3),(-46.2,-5.6),(-46.6,-7.8),
(-33.6,-8.2),(-31.9,-9.5),(-39.9,-11.7),(-39,-10.8),
(-61.3,-8.2),(-57.9,-10),(-65.9,-9.5),(-67.6,-11.7),(-71.8,-14.3),(-71.8,-16.5),(-69.3,-14.7),(-67.2,-16.5),(-64.2,-11.7),(-60.9,-11.7),(-59.2,-15.2),(-69.3,-19.5),(-65.9,-21.3),(-63,-25.7),(-64.2,-17.8),(-61.7,-20.8),(-65.1,-23),
(-54.2,-11.7),(-52,-14.3),(-53.3,-17.8),(-55.8,-21.3),(-57.9,-19.5),(-54.2,-24.3),(-59.2,-22.2),(-58.8,-26.1),(-55.8,-29.6),(-52.9,-28.3),(-50.8,-26.1),
(-44.1,-13.4),(-46.2,-17.8),(-43.2,-16.9),(-39,-17.4),(-39.9,-21.3),(-39.5,-23.5),(-42.4,-20.4),(-44.9,-23),(-49.1,-21.7),
(-21.8,2.4),(-20.1,-0.3),(-18,3.7),(-16.3,0.6),(-14.7,5.8),(-12.1,6.7),(-12.1,2.4),(-8.8,5.4),(-9.6,0.2),(-6.7,0.4),(-12.6,-1.6),(-15.1,-3.3),(-17.6,-5.9),
(-27.7,-2.9),(-26,-1.6),(-23.9,-4.2),(-21.4,-3.3),(-28.1,-4.6),(-24.3,-7.2),(-23.1,-8.1),
(-33.1,-8.5),(-31.9,-9.9),(-27.3,-9.9),(-30.2,-12),(-32.3,-13.4),(-32.3,-15.5),(-27.7,-11.6),
(-87.8,-26),(-87.4,-29.1),(-84.8,-25.6),(-82.3,-23.8),(-83.2,-28.2),(-80.2,-28.2),(-78.5,-25.6),(-80.2,-30.8),(-76.9,-30),(-79.8,-33.4),(-77.7,-33.9),
(-84.8,-33.9),(-83.6,-37.4),(-83.6,-40),(-80.6,-36.5),(-77.3,-37.4),(-77.7,-40.9),(-81,-42.2),(-81.9,-44.8),
(-76.4,-46.1),(-74.8,-47.8),(-73.1,-46.5),(-73.9,-43.5),(-71,-45.2),(-68.4,-42.2),(-68.4,-39.1),(-71.4,-37.8),(-69.7,-37.4),
(-64.7,-42.6),
(-61.7,-43.9),(-60.5,-47.4),(-59.2,-44.8),(-57.1,-45.2),(-60.5,-50.5),(-59.2,-52.6),(-57.1,-48.3),(-54.2,-46.5),(-51.6,-40.9),(-52.5,-43.9),(-50,-45.7),(-47,-45.2),(-48.3,-42.2),(-46.6,-38.7),(-44.9,-36.1),(-44.1,-37.4),(-52.1,-50),(-54.2,-50.9),(-50.4,-53.1),(-53.7,-54.8),(-56.7,-54.8),(-58.8,-57),(-59.2,-60.5),(-58.8,-64),(-60.9,-63.5),(-63.4,-64),(-65.1,-64.9),(-61.3,-66.6),(-58.4,-67),(-55.8,-67),(-58,-70.1),(-56,-51),(-58,-49),(-55,-53),
(-54.2,-64),(-51.6,-64.9),(-49.1,-65.7),(-46.6,-64.4),(-46.6,-61.4),(-44.1,-60.9),(-40.7,-61.4),(-38.2,-62.2),(-44.1,-64),(-40.3,-64),(-40.7,-66.6),(-44.1,-67.9),(-46.2,-70.1),(-42.4,-70.5),(-39.9,-68.8),(-37.4,-69.2),(-36.5,-71.8),(-50.8,-72.7),(-48.7,-71.8),(-51.2,-76.2),(-47.9,-74.5),(-44.1,-74),(-48.3,-77.9),(-44.1,-79.7),(-43.2,-83.2),(-42.4,-83.2),(-46,-78.5),(-50,-75),
(-39.9,-79.3),(-38.2,-80.1),(-39,-57),(-36.9,-56.6),
(-33.6,-55.7),(-30.6,-54.8),(-27.3,-55.3),(-25.6,-52.2),(-23.1,-53.9),(-35.3,-59.2),(-33.1,-58.7),(-32.7,-62.2),(-32.3,-64.9),(-32.7,-67.5),(-30.2,-67.9),(-32.7,-70.1),(-30.2,-71.8),(-34.8,-71.8),(-36.5,-74.5),(-34,-74.5),(-31.5,-74.5),
(-25.2,-57.9),(-22.2,-57.4),(-20.5,-56.1),(-20.1,-59.2),(-16.4,-60.5),(-21.4,-61.4),(-22.6,-64.9),(-18,-63.1),(-23.1,-68.3),(-20.1,-67.5),(-18.5,-69.7),(-16.4,-72.3),(-18.5,-72.7),(-21.8,-71.8),
(-16.4,-55.7),(-11.7,-58.7),(-9.6,-58.7),(-7.1,-59.6),(-5,-59.6),(-6.3,-62.2),(-5.8,-65.3),
(-11.3,-67.5),(-9.6,-67.5),(-11.7,-69.2),(-9.6,-71),(-11.3,-74.9),(-6.7,-73.6),(-8.4,-76.2),(-9.6,-78.8),(-11.3,-81.4),(-13,-84.9),
(-22.2,-76.2),(-19.3,-77.5),(-21.8,-79.3),(-14.3,-78),(-16.4,-80.6),(-19.7,-84.1),(-13.8,-81.4),(-15.1,-84.9),(-17.6,-83.2),(-12,-83),
(-31.1,-81),(-27.7,-81.9),(-30.2,-84.9),(-29.8,-87.5),(-26.9,-86.2),(-27.3,-88.9),(-23.1,-87.1),(-23.5,-89.3),(-20.5,-89.7),(-18,-89.3),(-15.9,-90.2),(-15.1,-89.3),(-16.4,-86.7),
(-25,-89),
(-68,40.5),(-65,40),(-61.8,39),(-70.2,39),(-60.7,36.5),(-63,34.8),(-66.4,33.8),(-69.3,32.8),(-72.7,32),(-75,31),(-76,28.5),(-74.8,26),(-72.3,26.5),(-70.6,30.5),(-67.4,31.3),(-64.4,31),(-62,30),(-68.5,26),(-64.3,25.6),(-71.4,23),(-72,20),(-70,20),(-70.3,23),(-68,29),
(-49,18.6),(-51.6,18),(-51.7,15.5),(-55,15.7),(-58.5,15.8),(-61.5,14),(-65,12.7),(-67.8,11.2),(-69.3,9.3),(-64,11),(-61,12),(-58,11.7),(-60,9),(-61,7.5),(-58,6.7),(-58,5),(-60.5,3.5),(-63.2,2.5),(-66.7,2.5),(-68.4,4.5),(-66.8,5.5),(-63.5,5),(-63,9),(-65.5,8),
(-82.3,14),(-84.2,12.5),(-83.3,11.2),(-80.2,11.2),(-77.7,9.7),(-75.8,6.9),(-75.4,3.6),(-83.1,7.5),(-81.7,6.2),(-81.9,3.6),(-85.7,7),(-87.8,5.7),(-90,2.2),(-90,0),(-88.8,-3.4),(-88.2,-6),
(-75.5,0.3),(-79,-2),(-79.5,-3.6),(-80,-5),(-76.5,-6.2),(-75.2,-7),(-75.8,-9.7),(-75.5,-11.7),(-77.8,-9.3),(-80.8,-10),(-83.8,-9.8),(-85.7,-10.4),(-86.8,-12.8),(-87.2,-15.5),(-86,-18),(-79.5,-7),
(-50,4),(-50.8,1),(-50.6,-2.3),(-52,-3.7),(-55.5,-4.5),(-56.5,-6),(-54.8,-7.5),(-53,-8),(-51.2,-8.6),(-39,10.6),(-41.5,9),(-38,9.3),(-38.4,6.4),(-41.5,6),(-42.8,4.8),(-39.5,3),(-39.7,1.3),
(-45.6,-3.6),(-45.2,-5),(-46.4,-6.7),(-32.7,-8.9),(-39.5,-11.2),
(-59.6,-9),(-63.5,-8.9),(-66.7,-10.6),(-69.7,-13),(-71.8,-15.4),(-70.5,-17.5),(-68,-15.5),(-65.8,-13),(-62.5,-11.7),(-60,-13.5),(-67.6,-20.4),(-64.5,-24.4),(-65,-19.5),(-63,-19.3),(-60,-18.5),(-63,-22.5),
(-53,-13),(-52.7,-16),(-54.5,-19.5),(-56.8,-20.4),(-55,-22.8),(-57.5,-22),(-59,-24),(-57.4,-27.8),(-54.3,-29),(-51.8,-27.2),(-54,-26.5),
(-45.2,-15.5),(-44.7,-17.4),(-41,-17.2),(-39.4,-19.3),(-41,-20.8),(-43.6,-21.7),(-47,-22.2),(-46.5,-20),(-40.5,-15),(-42,-22.7),
(-20.9,1),(-19,1.8),(-17.2,2.2),(-15.5,3.2),(-13.4,6.2),(-12,4.5),(-10.5,6),(-10.8,2),(-8,0.3),(-11,-0.6),(-13.8,-2.4),(-16.3,-4.6),(-14.5,2),(-18.5,0.5),
(-26.9,-2.2),(-25,-3),(-22.7,-3.8),(-26.5,-5),(-24,-5.7),(-32.5,-9.2),(-29,-9.9),(-28.7,-11),(-31,-12.7),(-25.5,-6),
(-87.6,-27.5),(-86.3,-25.8),(-83.5,-24.7),(-83.7,-26.5),(-81.7,-28.2),(-79.4,-27),(-79.5,-29.5),(-78.5,-30.4),(-80,-32),(-84.2,-35.6),(-83.6,-38.7),(-82.3,-38.5),(-79,-37),(-79.3,-38.5),(-79,-41.5),(-81.5,-43.5),
(-75.6,-47),(-74,-47),(-73.5,-45),(-72,-45.8),(-69.7,-43.7),(-67.8,-40.7),(-70,-38),(-69,-40),
(-60.8,-45.7),(-60,-49),(-58,-45),(-58.7,-47.5),(-56,-46.5),(-52,-42.4),(-51.2,-45),(-48.5,-45.5),(-47.5,-43.7),(-47.4,-40.5),(-45.7,-37.4),(-53,-50.5),(-52,-52),(-55,-50),(-57.7,-55.9),(-59,-58.8),(-59,-62.3),(-62,-63.8),(-64.2,-64.5),(-59.8,-66.8),(-57,-67),(-58,-68.5),(-58,-51),(-55,-48),(-52.7,-48),
(-52.8,-64.5),(-50.3,-65.3),(-47.8,-65),(-46.6,-63),(-45.3,-61.2),(-42.4,-61.2),(-39.4,-61.8),(-42,-64),(-40.5,-65.3),(-42.4,-67.3),(-45.2,-69),(-44.3,-70.3),(-41,-69.7),(-38.6,-69),(-37,-70.5),(-49.8,-72.2),(-51,-74.5),(-49.5,-77),(-46,-74.2),(-45,-76.7),(-46.5,-79),(-43.6,-81.5),(-39,-79.7),(-38,-56.8),
(-32,-55.2),(-29,-55),(-26.5,-53.8),(-24.4,-53),(-34.4,-57.5),(-34.2,-59),(-33,-60.5),(-32.5,-63.5),(-32.5,-66.2),(-31.5,-67.7),(-31.5,-71),(-32.7,-72),(-35.6,-73),(-35.2,-74.5),(-32.7,-74.5),
(-23.7,-57.6),(-21.3,-56.8),(-20.3,-57.6),(-18.2,-59.8),(-20.8,-60.3),(-22,-63),(-20.3,-62.3),(-22.8,-66.6),(-21.6,-67.9),(-19.3,-68.6),(-17.4,-71),(-20.1,-72.3),(-23,-70),
(-10.7,-58.7),(-8.4,-59),(-6,-59.6),(-6,-60.9),(-6,-63.8),(-10.5,-67.5),(-10.7,-70),(-10.5,-73),(-9,-74.7),(-7.5,-75),(-9,-77.5),(-10.5,-80),(-12.2,-83),
(-20.7,-76.9),(-20.5,-78.5),(-15.3,-79.3),(-15,-81),(-18,-82),(-14.5,-83.2),(-18.7,-83.7),(-16,-84),
(-29.4,-81.4),(-30.7,-83),(-30,-86.2),(-28.5,-87),(-25,-86.7),(-25.5,-89),(-22,-89.5),(-19.2,-89.5),(-17,-89.8),(-15.7,-87.8),(-17,-85),(-28,-84),
]

p = figure(width=814, height=804, frame_width=770, frame_height=781,
           x_range=(-99.7, 94.2), y_range=(-100, 104.5),
           output_backend="svg", toolbar_location=None,
           margin=(11, 0, 0, -2))
p.grid.visible = False
p.outline_line_color = "#000000"
p.outline_line_width = 1
p.background_fill_color = "white"

for axis, ticks in ((p.xaxis[0], x_ticks), (p.yaxis[0], y_ticks)):
    axis.ticker = ticks
    axis.major_label_overrides = {t: str(t).replace("-", "\u2212") for t in ticks}
    axis.major_label_text_font = "DejaVu Sans"
    axis.major_label_text_font_size = "11px"
    axis.major_label_text_color = "#000000"
    axis.major_tick_in = 0
    axis.major_tick_out = 4
    axis.major_tick_line_color = "#000000"
    axis.minor_tick_line_color = None
    axis.axis_line_color = "#000000"
    axis.major_label_standoff = 4

for pts, color in ((blue_points, "#0000ff"), (red_points, "#ff0000"),
                   (green_points, "#008000"), (orange_points, "#ffa500")):
    p.scatter([q[0] for q in pts], [q[1] for q in pts], size=13.5,
              marker="circle", fill_color=color, line_color=None)

open("out.html", "w").write(file_html(p, INLINE))
